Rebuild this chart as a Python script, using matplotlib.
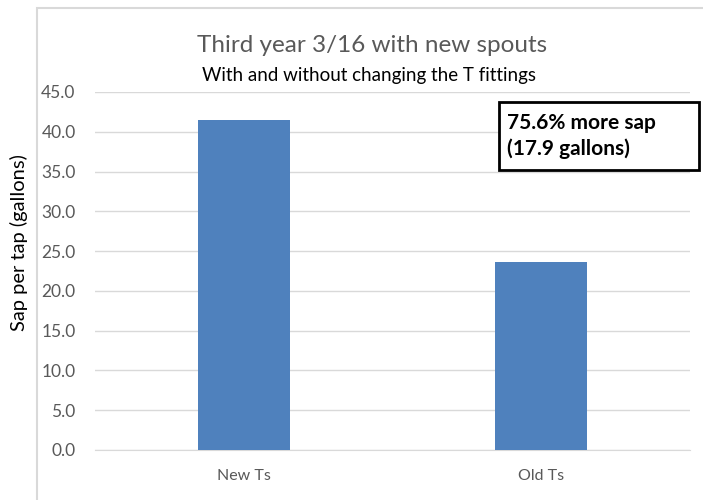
import matplotlib.pyplot as plt
from matplotlib.patches import Rectangle

categories = ['New Ts', 'Old Ts']
sap_per_tap = [41.5, 23.6]
yticks = [0, 5, 10, 15, 20, 25, 30, 35, 40, 45]

plt.rcParams['font.family'] = ['Lato', 'DejaVu Sans']

fig = plt.figure(figsize=(7.03, 5.0), dpi=100)
W, H = 703, 500

# outer chart border (light gray)
fig.add_artist(Rectangle((37 / W, -0.1), 1.0, (H - 8) / H + 0.1, transform=fig.transFigure,
                         fill=False, edgecolor='#d9d9d9', linewidth=1.5))

ax = fig.add_axes([95 / W, 1 - 450 / H, (690 - 95) / W, (450 - 92) / H])
ax.bar(categories, sap_per_tap, width=0.31, color='#4f81bd', zorder=3)
ax.set_xlim(-0.5, 1.5)
ax.set_ylim(0, 45)
ax.set_yticks(yticks)
ax.set_yticklabels(['%.1f' % v for v in yticks])
ax.grid(axis='y', color='#d9d9d9', linewidth=1)
for s in ['top', 'right', 'left']:
    ax.spines[s].set_visible(False)
ax.spines['bottom'].set_color('#d9d9d9')
ax.tick_params(axis='both', length=0, colors='#595959')
ax.tick_params(axis='y', pad=14, labelsize=12.5)
ax.tick_params(axis='x', pad=14, labelsize=11.5)
ax.set_ylabel('Sap per tap (gallons)', fontsize=14.5, color='black')
ax.yaxis.set_label_coords(-0.112, 0.58)

fig.text(372 / W, 1 - 46 / H, 'Third year 3/16 with new spouts', ha='center', va='center',
         fontsize=17.5, color='#595959')
fig.text(369 / W, 1 - 76 / H, 'With and without changing the T fittings', ha='center', va='center',
         fontsize=13.5, color='black')

# annotation box
fig.add_artist(Rectangle((499 / W, 1 - 170 / H), 200 / W, 68 / H, transform=fig.transFigure,
                         fill=True, facecolor='white', edgecolor='black', linewidth=2, zorder=5))
fig.text(507 / W, 1 - 136 / H, '75.6% more sap\n(17.9 gallons)', ha='left', va='center',
         fontsize=15, fontweight='bold', color='black', linespacing=1.3, zorder=6)

fig.savefig('out.png', dpi=100, facecolor='white')
